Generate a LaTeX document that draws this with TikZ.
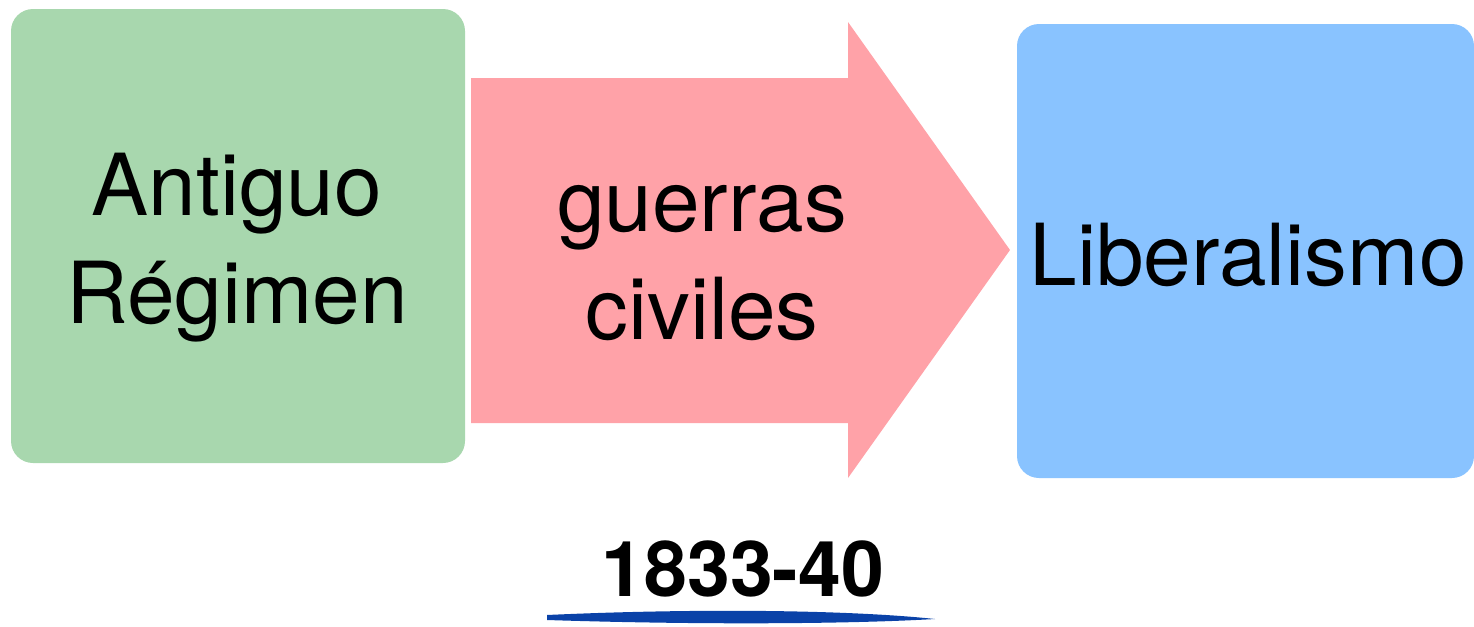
\documentclass[tikz,border=0pt]{standalone}
\usepackage{fontspec}
\setmainfont{TeX Gyre Heros}

\definecolor{antiguogreen}{RGB}{168,215,174}
\definecolor{guerrapink}{RGB}{255,162,168}
\definecolor{liberalblue}{RGB}{137,195,255}
\definecolor{brushblue}{RGB}{10,66,168}

\begin{document}
\begin{tikzpicture}[x=0.5pt,y=-0.5pt,box node/.style={rounded corners=11pt,minimum width=227pt,minimum height=227pt,inner sep=0pt},text node/.style={align=center,font=\fontsize{42.8}{54}\selectfont}]
  \useasboundingbox (0,0) rectangle (1474,627);

  \node[box node,fill=antiguogreen] (antiguo) at (238,236) {};
  \node[box node,fill=liberalblue,minimum width=228.5pt] (liberal) at (1245.5,251) {};

  % big arrow between the two periods
  \fill[guerrapink] (471,78) -- (848,78) -- (848,22) -- (1010,250) -- (848,478) -- (848,423) -- (471,423) -- cycle;

  \node[text node] (antiguotxt) at (237,247.5) {Antiguo\\Régimen};
  \node[text node] (guerrastxt) at (702,263) {guerras\\civiles};
  \node[text node] (liberaltxt) at (1248,254.6) {Liberalismo};

  \node[font=\fontsize{38.5}{46}\selectfont\bfseries] (fecha) at (743,568.6) {1833-40};
  \fill[brushblue] (547,615) .. controls (700,608) and (850,610) .. (935,619) .. controls (850,624) and (700,625) .. (547,620) -- cycle;
\end{tikzpicture}
\end{document}
